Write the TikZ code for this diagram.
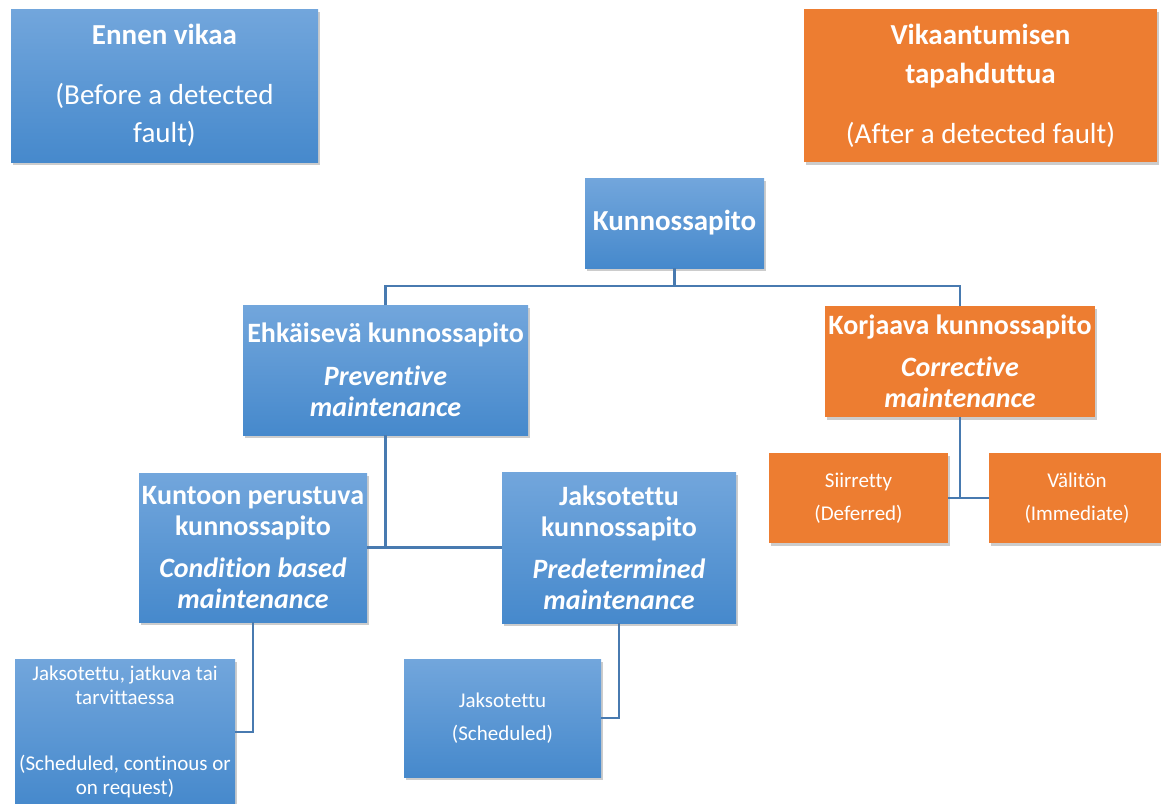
\documentclass[tikz,border=0pt]{standalone}
\usepackage{fontspec}
\setmainfont[Ligatures=NoCommon]{Carlito}
\usepackage{tikz}
\usetikzlibrary{shadows}
\definecolor{boxtop}{RGB}{114,166,220}
\definecolor{boxbot}{RGB}{70,137,204}
\definecolor{faultorange}{RGB}{237,125,49}
\definecolor{linkblue}{RGB}{72,122,176}

\begin{document}
\begin{tikzpicture}[
    x=1pt, y=-1pt,
    box/.style={rectangle, inner sep=0pt, align=center, text=white,
      drop shadow={opacity=0.4, shadow xshift=2pt, shadow yshift=-3pt}},
    bluebox/.style={box, top color=boxtop, bottom color=boxbot},
    orangebox/.style={box, fill=faultorange},
    big/.style={font=\fontsize{28}{31}\selectfont},
    small/.style={font=\fontsize{21}{24}\selectfont},
    link/.style={draw=linkblue, line width=2.5pt}
]
  \useasboundingbox (0,0) rectangle (1161,803);

  % nodes
  \node[bluebox, font=\fontsize{29}{38}\selectfont, minimum width=307, minimum height=153] (before) at (164.5,85.5)
    {\textbf{Ennen vikaa}\\[22pt](Before a detected\\fault)};
  \node[orangebox, font=\fontsize{29}{39}\selectfont, minimum width=353, minimum height=153] (after) at (980.5,85.5)
    {\textbf{Vikaantumisen}\\\textbf{tapahduttua}\\[21pt](After a detected fault)};

  \node[bluebox, font=\fontsize{29}{31}\selectfont, minimum width=179, minimum height=90] (kp) at (674.5,223) {\textbf{Kunnossapito}};

  \node[bluebox, big, minimum width=285, minimum height=130] (ehk) at (385.5,370)
    {\textbf{Ehkäisevä kunnossapito}\\[12pt]\textbf{\itshape Preventive}\\\textbf{\itshape maintenance}};
  \node[orangebox, big, minimum width=270, minimum height=111] (korj) at (960,361.5)
    {\textbf{Korjaava kunnossapito}\\[11pt]\textbf{\itshape Corrective}\\\textbf{\itshape maintenance}};

  \node[orangebox, small, minimum width=179, minimum height=90] (siir) at (858.5,498)
    {Siirretty\\[9pt](Deferred)};
  \node[orangebox, small, minimum width=176, minimum height=90] (vali) at (1077,498)
    {Välitön\\[9pt](Immediate)};

  \node[bluebox, big, minimum width=228, minimum height=149] (kunto) at (253,547.5)
    {\textbf{Kuntoon perustuva}\\\textbf{kunnossapito}\\[11pt]\textbf{\itshape Condition based}\\\textbf{\itshape maintenance}};
  \node[bluebox, big, minimum width=234, minimum height=151] (jaks) at (619,547.5)
    {\textbf{Jaksotettu}\\\textbf{kunnossapito}\\[11pt]\textbf{\itshape Predetermined}\\\textbf{\itshape maintenance}};

  \node[bluebox, small, minimum width=220, minimum height=146] (jatkuva) at (125,732)
    {Jaksotettu, jatkuva tai\\tarvittaessa\\[42pt](Scheduled, continous or\\on request)};
  \node[bluebox, small, minimum width=197, minimum height=118] (sched) at (502.5,718)
    {Jaksotettu\\[9pt](Scheduled)};

  % edges
  \draw[link] (kp.south) -- ++(0,18) coordinate (split);
  \draw[link] (split) -| (ehk.north);
  \draw[link] (split) -| (korj.north);
  \draw[link] (ehk.south) |- (kunto.east);
  \draw[link] (ehk.south) |- (jaks.west);
  \draw[link] (korj.south) |- (siir.east);
  \draw[link] (korj.south) |- (vali.west);
  \draw[link] (kunto.south) |- (jatkuva.east);
  \draw[link] (jaks.south) |- (sched.east);
\end{tikzpicture}
\end{document}
